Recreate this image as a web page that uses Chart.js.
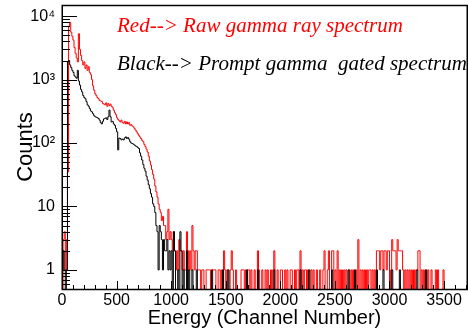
<!DOCTYPE html>
<html>
<head>
<meta charset="utf-8">
<script src="https://cdn.jsdelivr.net/npm/chart.js@4.4.1/dist/chart.umd.min.js"></script>
<style>
  html, body { margin: 0; padding: 0; background: #fff; }
  #c { display: block; }
</style>
</head>
<body>
<canvas id="c" width="468" height="331"></canvas>
<script>
// ---------------- DATA ----------------
// histogram bin width (channels)
const binWidth = 10;
const xMaxChannel = 3710;

// counts per 10-channel bin, channels 0 .. 990 (bin start = index*10)
const redLowCounts = [
  0, 3, 4, 1, 3, 35, 7000, 8000, 5600, 4800,          // 0-90
  4200, 3200, 2600, 2200, 1900, 5300, 3000, 2400, 2000, 1700, // 100-190
  1900, 1500, 1700, 1400, 1600, 1300, 1200, 1000, 800, 680,   // 200-290
  600, 560, 520, 500, 470, 460, 450, 420, 410, 400,           // 300-390
  430, 380, 420, 390, 410, 380, 360, 330, 300, 280,           // 400-490
  250, 235, 225, 215, 230, 210, 205, 220, 200, 215,           // 500-590
  200, 210, 190, 195, 185, 180, 170, 160, 150, 140,           // 600-690
  132, 125, 118, 110, 105, 95, 88, 80, 72, 62,                // 700-790
  52, 45, 38, 32, 27, 21, 17, 14, 11, 9,                      // 800-890
  8, 6, 7, 5, 5, 3, 4, 9, 3, 4                                // 900-990
];
const blackLowCounts = [
  1, 2, 1, 0, 1, 1900, 2000, 1700, 1550, 1400,                // 0-90
  1300, 1150, 1100, 1050, 1400, 950, 820, 700, 640, 560,      // 100-190
  520, 500, 450, 400, 380, 350, 320, 310, 290, 270,           // 200-290
  260, 255, 250, 245, 230, 210, 200, 220, 240, 245,           // 300-390
  250, 235, 260, 330, 260, 215, 220, 200, 190, 170,           // 400-490
  150, 78, 120, 118, 112, 115, 112, 120, 125, 118,            // 500-590
  122, 115, 105, 100, 98, 96, 93, 90, 88, 85,                 // 600-690
  82, 70, 62, 54, 46, 40, 36, 30, 26, 22,                     // 700-790
  19, 16, 14, 11, 10, 8, 5, 4, 1, 5,                          // 800-890
  4, 3, 1, 3, 2, 2, 3, 1, 2, 1                                // 900-990
];
// sparse non-empty bins above channel 1000: [bin start channel, counts]
const redHighBins = [
  [1000,3],[1010,2],[1020,4],[1030,2],[1040,1],[1050,2],[1060,1],[1070,3],[1080,2],[1090,2],
  [1100,1],[1110,2],[1120,1],[1130,1],[1140,4],[1150,2],[1160,1],[1170,2],[1180,1],[1190,5],
  [1200,2],[1210,1],[1220,2],[1230,2],[1240,1],[1250,1],[1260,1],[1280,1],[1290,1],[1320,1],
  [1330,1],[1340,1],[1350,1],[1370,1],[1380,1],[1390,1],[1400,1],[1430,1],[1440,1],[1460,1],
  [1480,2],[1490,1],[1510,1],[1540,1],[1550,2],[1560,1],[1590,1],[1640,1],[1650,1],[1660,1],
  [1680,1],[1700,1],[1710,1],[1730,1],[1760,1],[1790,2],[1800,1],[1830,1],[1860,1],[1880,1],
  [1910,1],[1930,1],[1940,2],[1970,1],[2000,1],[2010,1],[2040,1],[2060,1],[2090,1],[2100,1],
  [2130,1],[2150,1],[2160,1],[2180,2],[2200,1],[2220,1],[2230,1],[2250,1],[2280,1],[2300,1],
  [2330,1],[2360,1],[2390,1],[2400,2],[2430,1],[2440,2],[2470,2],[2480,2],[2500,1],[2520,2],
  [2540,1],[2560,1],[2580,1],[2600,1],[2630,1],[2650,1],[2670,1],[2690,1],[2710,3],[2730,1],
  [2750,1],[2770,1],[2790,1],[2810,1],[2820,1],[2840,1],[2860,1],[2880,2],[2890,2],[2900,2],
  [2910,1],[2920,2],[2930,2],[2940,1],[2950,2],[2960,2],[2970,1],[2980,2],[2990,2],[3010,1],
  [3020,3],[3030,2],[3040,2],[3050,2],[3060,1],[3070,3],[3080,2],[3090,2],[3100,2],[3110,2],
  [3120,1],[3140,1],[3160,1],[3180,1],[3200,1],[3220,1],[3240,1],[3250,1],[3260,2],[3270,2],
  [3290,1],[3310,1],[3330,1],[3350,1],[3380,1],[3420,1],[3440,1],[3490,1]
];
const blackHighBins = [
  [1000,2],[1020,4],[1030,2],[1060,1],[1080,4],[1090,2],[1110,1],[1140,2],[1160,1],[1190,1],
  [1230,1],[1370,1],[1470,1],[1520,1],[1690,1],[1790,1],[1940,1],[2180,1],[2260,1],[2470,1],
  [2620,1],[2680,1],[2880,1],[2940,1],[3020,1],[3090,1],[3250,1],[3330,1]
];

// axis tick values and labels
const xTickValues = [0, 500, 1000, 1500, 2000, 2500, 3000, 3500];
const yTickValues = [1, 10, 100, 1000, 10000];
const yTickLabels = ['1', '10', '10\u00B2', '10\u00B3', '10\u2074'];

const seriesNames = ['Red--> Raw gamma ray spectrum', 'Black--> Prompt gamma  gated spectrum'];
const xTitle = 'Energy (Channel Number)';
const yTitle = 'Counts';

// value used for empty bins (below the log axis minimum, so the step drops to the frame)
const emptyBinValue = 0.05;

// ---------------- BUILD TABLE ----------------
function buildSeries(low, high) {
  const hi = new Map(high);
  const pts = [];
  for (let i = 0; i * binWidth < xMaxChannel; i++) {
    const ch = i * binWidth;
    const v = i < low.length ? low[i] : (hi.get(ch) || 0);
    pts.push({ x: ch, y: v > 0 ? v : emptyBinValue });
  }
  pts.push({ x: xMaxChannel, y: pts[pts.length - 1].y });
  return pts;
}
const redData = buildSeries(redLowCounts, redHighBins);
const blackData = buildSeries(blackLowCounts, blackHighBins);

// ---------------- PLUGINS ----------------
const frameTicks = {
  id: 'frameTicks',
  afterDatasetsDraw(chart) {
    const { ctx, chartArea: a, scales: { x, y } } = chart;
    ctx.save();
    ctx.strokeStyle = '#000';
    ctx.lineWidth = 1;
    ctx.beginPath();
    for (let e = -1; e <= 4; e++) {
      for (let d = 1; d <= 9; d++) {
        const v = d * Math.pow(10, e);
        if (v < y.min || v > y.max) continue;
        const py = Math.round(y.getPixelForValue(v)) + 0.5;
        const len = d === 1 ? 15 : 8;
        ctx.moveTo(a.left, py);
        ctx.lineTo(a.left + len, py);
      }
    }
    for (let v = 0; v <= x.max; v += 100) {
      const px = Math.round(x.getPixelForValue(v)) + 0.5;
      const len = v % 500 === 0 ? 8 : 4;
      ctx.moveTo(px, a.bottom);
      ctx.lineTo(px, a.bottom - len);
    }
    ctx.stroke();
    ctx.lineWidth = 1.5;
    ctx.strokeRect(Math.round(a.left) + 0.25, Math.round(a.top) + 0.5,
                   Math.round(a.right - a.left), Math.round(a.bottom - a.top));
    ctx.restore();
  }
};
const legendText = {
  id: 'legendText',
  afterDraw(chart) {
    const ctx = chart.ctx;
    ctx.save();
    ctx.font = 'italic 21px "Liberation Serif", "Times New Roman", serif';
    ctx.textBaseline = 'alphabetic';
    ctx.fillStyle = '#ff0000';
    ctx.fillText(seriesNames[0], 117, 32);
    ctx.fillStyle = '#000000';
    ctx.fillText(seriesNames[1], 117, 70);
    ctx.restore();
  }
};

// ---------------- CHART ----------------
const sans = '"Liberation Sans", Arial, Helvetica, sans-serif';
new Chart(document.getElementById('c'), {
  type: 'line',
  data: {
    datasets: [
      { label: seriesNames[1], data: blackData, borderColor: '#000000', borderWidth: 1,
        pointRadius: 0, stepped: 'before', fill: false },
      { label: seriesNames[0], data: redData, borderColor: '#ff0000', borderWidth: 1,
        pointRadius: 0, stepped: 'before', fill: false }
    ]
  },
  options: {
    responsive: false,
    devicePixelRatio: 1,
    animation: false,
    events: [],
    layout: { padding: { top: 5, right: 1, left: 0, bottom: 0 } },
    plugins: { legend: { display: false }, tooltip: { enabled: false } },
    scales: {
      x: {
        type: 'linear', min: 0, max: xMaxChannel,
        afterBuildTicks(s) { s.ticks = xTickValues.map(v => ({ value: v })); },
        afterFit(s) { s.height = 42; s.paddingLeft = 0; s.paddingRight = 0; },
        grid: { display: false, drawTicks: false },
        border: { display: false },
        ticks: { color: '#000', font: { family: sans, size: 16 }, padding: 2, maxRotation: 0, autoSkip: false,
                 callback: (v) => String(v) },
        title: { display: true, text: xTitle, color: '#000', font: { family: sans, size: 20 }, padding: { top: 0, bottom: 1 } }
      },
      y: {
        type: 'logarithmic', min: 0.5, max: 15000,
        afterBuildTicks(s) { s.ticks = yTickValues.map(v => ({ value: v })); },
        afterFit(s) { s.width = 62; s.paddingTop = 0; s.paddingBottom = 0; },
        grid: { display: false, drawTicks: false },
        border: { display: false },
        ticks: { color: '#000', font: { family: sans, size: 16 }, padding: 7,
                 callback: (v) => { const i = yTickValues.indexOf(v); return i >= 0 ? yTickLabels[i] : ''; } },
        title: { display: true, text: yTitle, color: '#000', font: { family: sans, size: 22 }, padding: { top: 13, bottom: 0 } }
      }
    }
  },
  plugins: [frameTicks, legendText]
});
</script>
</body>
</html>
